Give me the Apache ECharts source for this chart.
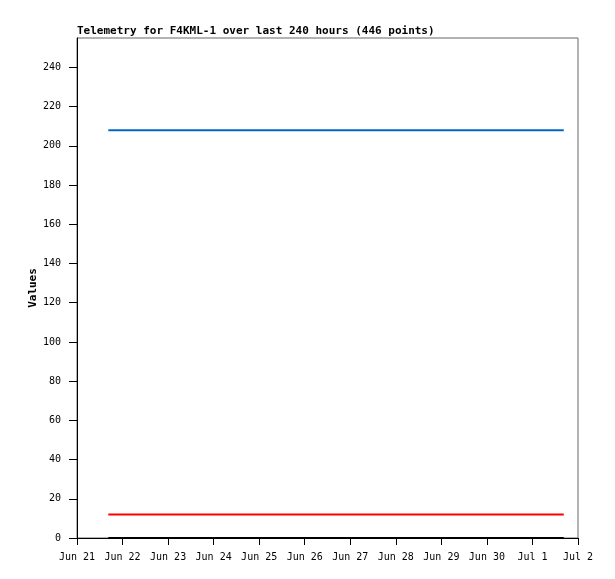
<!DOCTYPE html>
<html><head><meta charset="utf-8">
<script src="https://cdn.jsdelivr.net/npm/echarts@6/dist/echarts.min.js"></script>
<style>html,body{margin:0;padding:0;background:#fff}#c{width:615px;height:579px}</style>
</head><body><div id="c"></div>
<script>
// x in hours since Jun 21 00:00
const tickLabels = ["Jun 21","Jun 22","Jun 23","Jun 24","Jun 25","Jun 26","Jun 27","Jun 28","Jun 29","Jun 30","Jul 1","Jul 2"];
const yTicks = [0, 20, 40, 60, 80, 100, 120, 140, 160, 180, 200, 220, 240];
const timesHours = [16.5, 256.5];
const blueValues = [208, 208];
const redValues = [12, 12];
const blackValues = [0, 0];

const mk = (vals) => timesHours.map((t, i) => [t, vals[i]]);
const font = "DejaVu Sans Mono";
const chart = echarts.init(document.getElementById('c'));
chart.setOption({
  animation: false,
  title: { text: "Telemetry for F4KML-1 over last 240 hours (446 points)", left: 72, top: 21,
    textStyle: { fontFamily: font, fontSize: 11, fontWeight: 'bold', color: '#000' } },
  grid: { left: 77, right: 37, top: 38, bottom: 41, show: true, borderColor: '#666', borderWidth: 1 },
  xAxis: { type: 'value', min: 0, max: 264, interval: 24,
    axisLine: { lineStyle: { color: '#000', width: 1 } },
    axisTick: { length: 7, lineStyle: { color: '#000' } },
    splitLine: { show: false },
    axisLabel: { fontFamily: font, fontSize: 10, color: '#000', margin: 14,
      formatter: v => tickLabels[Math.round(v / 24)] } },
  yAxis: { type: 'value', min: 0, max: 255, interval: 20, name: 'Values', nameLocation: 'middle', nameGap: 38,
    nameMoveOverlap: false,
    nameTextStyle: { fontFamily: font, fontSize: 11, fontWeight: 'bold', color: '#000' },
    axisLine: { show: true, lineStyle: { color: '#000', width: 1 } },
    axisTick: { show: true, length: 8, customValues: yTicks, lineStyle: { color: '#000' } },
    splitLine: { show: false },
    axisLabel: { fontFamily: font, fontSize: 10, color: '#000', margin: 16, customValues: yTicks } },
  series: [
    { type: 'line', data: mk(blueValues), symbol: 'none', lineStyle: { color: '#0066cc', width: 2 } },
    { type: 'line', data: mk(redValues), symbol: 'none', lineStyle: { color: '#ff0000', width: 2 } },
    { type: 'line', data: mk(blackValues), symbol: 'none', clip: false, z: 5, lineStyle: { color: '#000', width: 2 } }
  ]
});
</script></body></html>
